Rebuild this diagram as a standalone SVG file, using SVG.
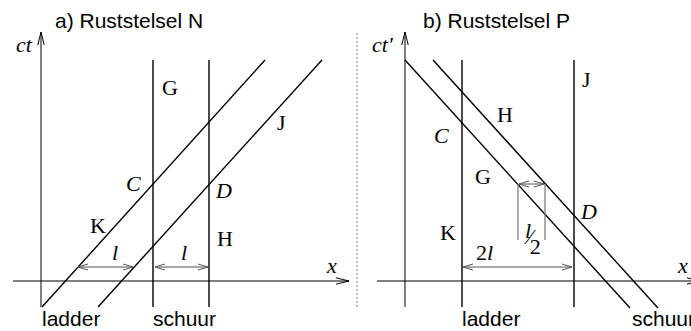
<svg xmlns="http://www.w3.org/2000/svg" width="691" height="331" viewBox="0 0 691 331">
<defs>
<style>
.bg{fill:#ffffff}
.ax{stroke:#000;stroke-width:1;fill:none}
.wl{stroke:#000;stroke-width:1.4;fill:none}
.dim{stroke:#555;stroke-width:1;fill:none}
.gl{stroke:#777;stroke-width:1.2;fill:none}
.sep{stroke:#777;stroke-width:1.2;stroke-dasharray:1.5 2.5;fill:none}
.ttl{font-family:"Liberation Sans",Arial,sans-serif;font-size:21px;fill:#000}
.lab{font-family:"Liberation Serif","Times New Roman",serif;font-size:22px;fill:#000}
.it{font-style:italic}
</style>
<marker id="ah" viewBox="0 0 13 8" refX="13" refY="4" markerWidth="13" markerHeight="8" markerUnits="userSpaceOnUse" orient="auto-start-reverse">
<path d="M0,0.8 L13,4 L0,7.2" fill="none" stroke="#000" stroke-width="1"/>
</marker>
<marker id="dh" viewBox="0 0 10 8" refX="10" refY="4" markerWidth="10" markerHeight="8" markerUnits="userSpaceOnUse" orient="auto-start-reverse">
<path d="M0,1 L10,4 L0,7" fill="none" stroke="#555" stroke-width="1"/>
</marker>
</defs>
<rect class="bg" x="0" y="0" width="691" height="331"/>

<g id="panel-a">
<text class="ttl" x="55" y="28">a) Ruststelsel N</text>
<g id="axes-a">
<line class="ax" x1="41" y1="307" x2="41" y2="32" marker-end="url(#ah)"/>
<line class="ax" x1="13" y1="281" x2="349" y2="281" marker-end="url(#ah)"/>
<text class="lab it" x="16" y="52" font-size="25">ct</text>
<text class="lab it" x="327" y="273" font-size="23">x</text>
</g>
<g id="worldlines-a">
<line class="wl" x1="153" y1="60" x2="153" y2="307"/>
<line class="wl" x1="209" y1="60" x2="209" y2="307"/>
<line class="wl" x1="42" y1="307" x2="265" y2="60"/>
<line class="wl" x1="98" y1="307" x2="322" y2="60"/>
</g>
<g id="dims-a">
<line class="dim" x1="78" y1="267" x2="133" y2="267" marker-start="url(#dh)" marker-end="url(#dh)"/>
<line class="dim" x1="155" y1="267" x2="208" y2="267" marker-start="url(#dh)" marker-end="url(#dh)"/>
<text class="lab it" x="112" y="260">l</text>
<text class="lab it" x="181" y="260">l</text>
</g>
<g id="labels-a">
<text class="lab" x="162" y="95">G</text>
<text class="lab" x="277" y="130">J</text>
<text class="lab it" x="126" y="191">C</text>
<text class="lab it" x="216" y="198">D</text>
<text class="lab" x="90" y="233">K</text>
<text class="lab" x="217" y="246">H</text>
<text class="ttl" x="42" y="326">ladder</text>
<text class="ttl" x="153" y="326">schuur</text>
</g>
</g>

<line id="separator" class="sep" x1="357" y1="33" x2="357" y2="307"/>

<g id="panel-b">
<text class="ttl" x="423" y="28">b) Ruststelsel P</text>
<g id="axes-b">
<line class="ax" x1="405" y1="307" x2="405" y2="32" marker-end="url(#ah)"/>
<line class="ax" x1="377" y1="281" x2="700" y2="281" marker-end="url(#ah)"/>
<text class="lab it" x="372" y="52" font-size="25">ct′</text>
<text class="lab it" x="678" y="273" font-size="23">x</text>
</g>
<g id="worldlines-b">
<line class="wl" x1="462" y1="60" x2="462" y2="307"/>
<line class="wl" x1="574" y1="60" x2="574" y2="307"/>
<line class="wl" x1="405" y1="60" x2="630" y2="308"/>
<line class="wl" x1="433" y1="60" x2="658" y2="308"/>
</g>
<g id="dims-b">
<line class="dim" x1="463" y1="267" x2="572" y2="267" marker-start="url(#dh)" marker-end="url(#dh)"/>
<line class="gl" x1="518" y1="184" x2="518" y2="240"/>
<line class="gl" x1="545" y1="184" x2="545" y2="240"/>
<line class="dim" x1="519" y1="184" x2="544" y2="184" marker-start="url(#dh)" marker-end="url(#dh)"/>
<text class="lab" x="476" y="260">2<tspan class="it">l</tspan></text>
<text class="lab" x="525" y="238"><tspan class="it">l</tspan><tspan dx="-3" dy="6">⁄</tspan><tspan dx="-2" dy="10">2</tspan></text>
</g>
<g id="labels-b">
<text class="lab" x="582" y="87">J</text>
<text class="lab" x="497" y="122">H</text>
<text class="lab it" x="434" y="143">C</text>
<text class="lab" x="475" y="184">G</text>
<text class="lab" x="440" y="240">K</text>
<text class="lab it" x="581" y="219">D</text>
<text class="ttl" x="462" y="326">ladder</text>
<text class="ttl" x="632" y="326">schuur</text>
</g>
</g>
</svg>
